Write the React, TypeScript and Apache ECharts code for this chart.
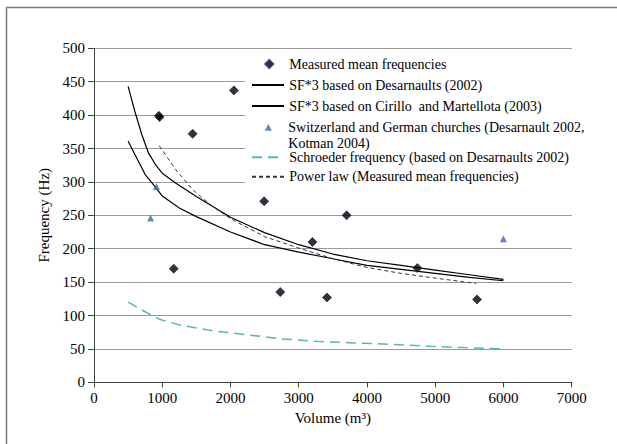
import React, { useEffect, useRef } from "react";
import * as echarts from "echarts";

const measuredV = [950, 962, 1445, 2050, 1169, 2493, 2729, 3201, 3414, 3702, 4738, 5613];
const measuredF = [399, 397, 372, 437, 170, 271, 135, 210, 127, 250, 171, 124];

const churchV = [829, 915, 5999];
const churchF = [246, 293, 215];

const desV = [500, 600, 700, 800, 900, 1000, 1200, 1500, 2000, 2500, 3000, 3500, 4000, 4500, 5000, 5500, 6000];
const desF = [443, 405, 371, 343, 326, 313, 298, 278, 247, 224, 206, 192, 182, 175, 168, 161, 154];

const cirV = [500, 750, 900, 1000, 1250, 1500, 2000, 2500, 3000, 3500, 4000, 4500, 5000, 5500, 6000];
const cirF = [361, 311, 292, 279, 261, 248, 225, 206, 195, 185, 175, 169, 163, 157, 152];

const schV = [500, 900, 1000, 1250, 1750, 2250, 2750, 3300, 3800, 4300, 4900, 5400, 6000];
const schF = [120, 97, 93, 86, 77, 71, 65, 61, 59, 57, 54, 52, 50];

const powV = [956, 1200, 1450, 1700, 2000, 2500, 3000, 3500, 4000, 4500, 5000, 5600];
const powF = [354, 318, 288, 266, 245, 218, 201, 185, 172, 163, 156, 148];

const names = [
  "Measured mean frequencies",
  "SF*3 based on Desarnaults (2002)",
  "SF*3 based on Cirillo  and Martellota (2003)",
  "Switzerland and German churches (Desarnault 2002, Kotman 2004)",
  "Schroeder frequency (based on Desarnaults 2002)",
  "Power law (Measured mean frequencies)",
];
const legendRows = [64, 85, 106, 127.3, 157.3, 176.7];

const FONT = "Liberation Serif";

const pairs = (xs: number[], ys: number[]) => xs.map((x, i) => [x, ys[i]]);

export default function App() {
  const ref = useRef<HTMLDivElement>(null);
  useEffect(() => {
    if (!ref.current) return;
    const chart = echarts.init(ref.current, undefined, { renderer: "svg" });
    const isLine = [false, true, true, false, true, true];
    const iconW = [8, 32, 32, 7, 32, 32];
    const iconH = [8, 14, 14, 7, 14, 14];
    const textStart = 288.3;
    const iconCenterScatter = 268.3;
    const legends = names.map((n, i) => {
      const left = isLine[i] ? 251 : iconCenterScatter - iconW[i] / 2;
      const textPad = textStart - (left + iconW[i] + 5);
      const lg: any = {
        left,
        top: legendRows[i] - 7,
        orient: "vertical",
        padding: 0,
        itemWidth: iconW[i],
        itemHeight: iconH[i],
        selectedMode: false,
        data: [n],
        textStyle: {
          fontFamily: FONT,
          fontSize: 14,
          color: "#000",
          lineHeight: 14,
          padding: [0, 0, 0, Math.max(0, textPad)],
        },
      };
      if (isLine[i]) lg.itemStyle = { opacity: 0 };
      if (i === 3) lg.formatter = () => "Switzerland and German churches (Desarnault 2002,";
      return lg;
    });
    chart.setOption({
      animation: false,
      textStyle: { fontFamily: FONT },
      grid: { left: 94, top: 48.3, right: 45.3, bottom: 61.7 },
      xAxis: {
        type: "value",
        min: 0,
        max: 7000,
        interval: 1000,
        name: "Volume (m³)",
        nameLocation: "middle",
        nameGap: 22,
        nameTextStyle: { fontFamily: FONT, fontSize: 15, color: "#000" },
        axisLine: { lineStyle: { color: "#404040", width: 1 } },
        axisTick: { show: true, length: 5, lineStyle: { color: "#404040" } },
        axisLabel: {
          fontFamily: FONT,
          fontSize: 15,
          color: "#000",
          margin: 8,
          formatter: (v: number) => String(v),
        },
        splitLine: { show: false },
      },
      yAxis: {
        type: "value",
        min: 0,
        max: 500,
        interval: 50,
        name: "Frequency (Hz)",
        nameLocation: "middle",
        nameRotate: 90,
        nameGap: 42,
        nameTextStyle: { fontFamily: FONT, fontSize: 15, color: "#000" },
        axisLine: { show: true, lineStyle: { color: "#404040", width: 1 } },
        axisTick: { show: true, length: 6, lineStyle: { color: "#404040" } },
        axisLabel: {
          fontFamily: FONT,
          fontSize: 15,
          color: "#000",
          margin: 9,
          formatter: (v: number) => String(v),
        },
        splitLine: { show: true, lineStyle: { color: "#9a9a9a", width: 1 } },
      },
      legend: legends,
      graphic: [
        {
          type: "rect",
          silent: true,
          z: 1,
          shape: { x: 245, y: 53, width: 335, height: 148 },
          style: { fill: "#ffffff", stroke: "none" },
        },
        {
          type: "rect",
          silent: true,
          z: 10,
          shape: { x: 6.5, y: 7.5, width: 640, height: 470 },
          style: { fill: "none", stroke: "#7a7a7a", lineWidth: 1.5 },
        },
        {
          type: "text",
          silent: true,
          z: 10,
          x: textStart,
          y: 143.3,
          style: {
            text: "Kotman 2004)",
            fontFamily: FONT,
            fontSize: 14,
            fill: "#000",
            verticalAlign: "middle",
            align: "left",
          },
        },
      ],
      series: [
        {
          name: names[0],
          type: "scatter",
          symbol: "diamond",
          symbolSize: 9,
          itemStyle: { color: "#000000", borderColor: "#2b2b5e", borderWidth: 1 },
          data: pairs(measuredV, measuredF),
          z: 5,
        },
        {
          name: names[1],
          type: "line",
          symbol: "none",
          itemStyle: { color: "#000" },
          lineStyle: { color: "#000", width: 1.2 },
          data: pairs(desV, desF),
          z: 3,
        },
        {
          name: names[2],
          type: "line",
          symbol: "none",
          itemStyle: { color: "#000" },
          lineStyle: { color: "#000", width: 1.2 },
          data: pairs(cirV, cirF),
          z: 3,
        },
        {
          name: names[3],
          type: "scatter",
          symbol: "triangle",
          symbolSize: 7,
          itemStyle: { color: "#3d66b3" },
          data: pairs(churchV, churchF),
          z: 5,
        },
        {
          name: names[4],
          type: "line",
          symbol: "none",
          itemStyle: { color: "#52b8b8" },
          lineStyle: { color: "#52b8b8", width: 1.5, type: [10, 6] },
          data: pairs(schV, schF),
          z: 3,
        },
        {
          name: names[5],
          type: "line",
          symbol: "none",
          itemStyle: { color: "#333" },
          lineStyle: { color: "#333", width: 1, type: [4, 3] },
          data: pairs(powV, powF),
          z: 3,
        },
      ],
    });
    return () => chart.dispose();
  }, []);
  return (
    <div
      ref={ref}
      style={{ position: "absolute", left: 0, top: 0, width: 617, height: 444, background: "#fff" }}
    />
  );
}
